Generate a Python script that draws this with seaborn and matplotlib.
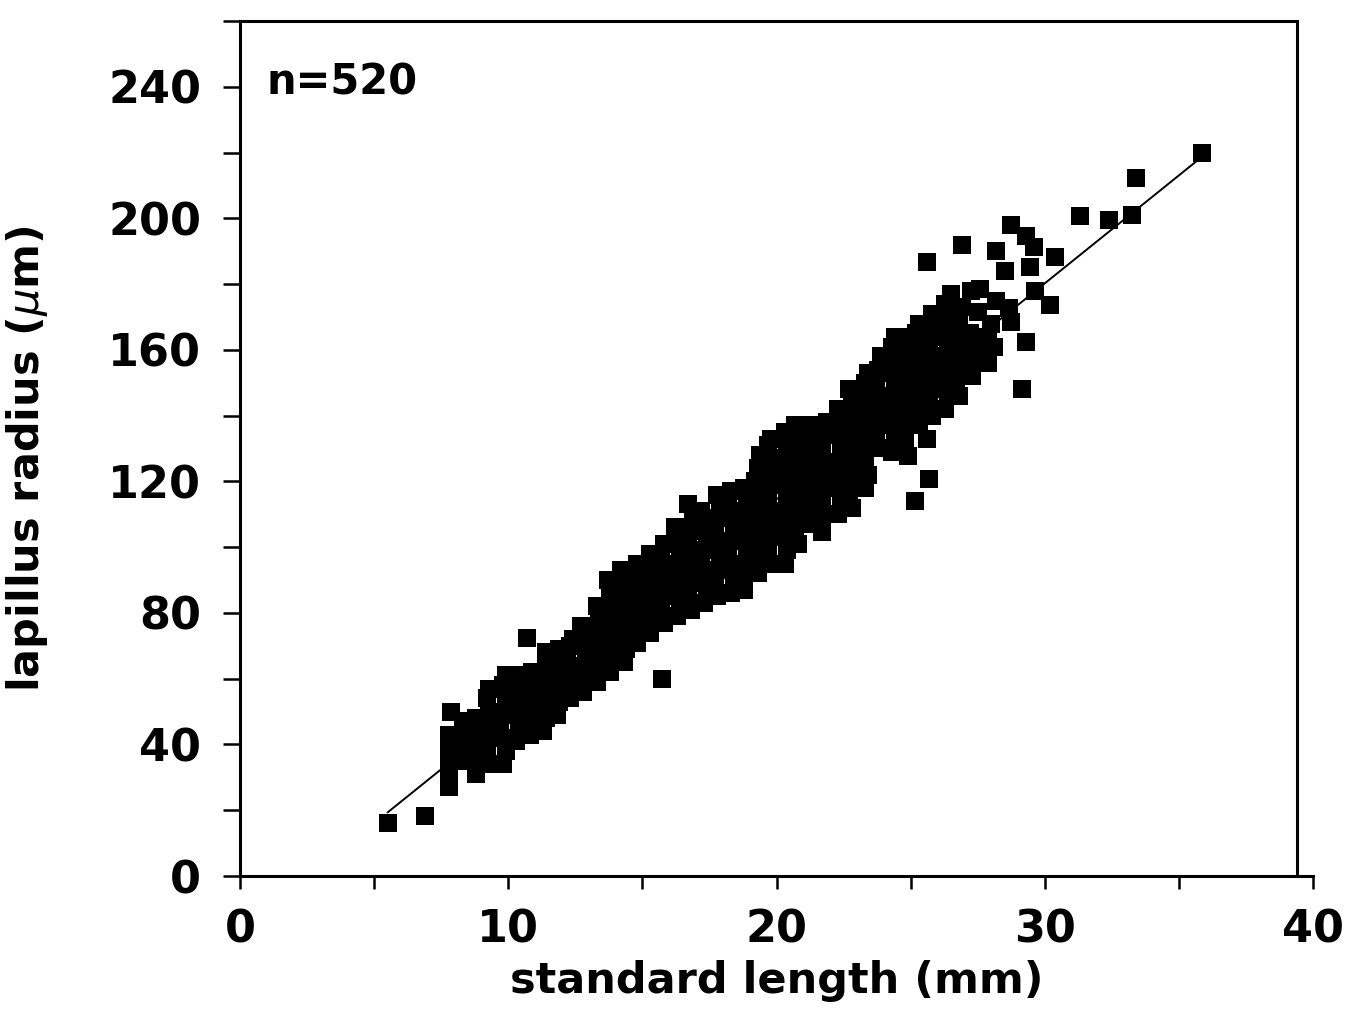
import matplotlib
matplotlib.use("Agg")
import matplotlib.pyplot as plt
import seaborn as sns
import pandas as pd
import numpy as np

# ---- data ----
standard_length_mm = [
    5.5, 6.9, 7.8, 7.8, 7.8, 7.8, 7.8, 7.85,
    8.4, 8.3, 8.4, 8.3,
    8.8, 8.9, 8.8, 8.9, 8.8,
    9.3, 9.2, 9.3, 9.4, 9.3, 9.2, 9.3,
    9.8, 9.9, 9.8, 9.7, 9.8, 9.9, 9.8, 9.9,
    10.3, 10.4, 10.3, 10.2, 10.3, 10.4,
    10.8, 10.9, 10.8, 10.7, 10.8, 10.9, 10.7,
    11.3, 11.4, 11.3, 11.2, 11.3, 11.4, 11.4,
    11.8, 11.9, 11.8, 11.7, 11.8, 11.9,
    12.3, 12.4, 12.3, 12.2, 12.3, 12.4,
    12.8, 12.7, 12.8, 12.9, 12.8, 12.7,
    13.3, 13.4, 13.3, 13.2, 13.3, 13.4, 13.3,
    13.8, 13.7, 13.8, 13.9, 13.8, 13.7, 13.8, 13.7,
    14.3, 14.4, 14.3, 14.2, 14.3, 14.4, 14.3, 14.2,
    14.8, 14.7, 14.8, 14.9, 14.8, 14.7, 14.8,
    15.3, 15.4, 15.3, 15.2, 15.3, 15.4, 15.3,
    15.8, 15.7, 15.8, 15.9, 15.8, 15.7, 15.8, 15.75,
    16.3, 16.4, 16.3, 16.2, 16.3, 16.4, 16.3, 16.2,
    16.8, 16.7, 16.8, 16.9, 16.8, 16.7, 16.8, 16.9, 16.7,
    17.3, 17.4, 17.3, 17.2, 17.3, 17.4, 17.3, 17.2,
    17.8, 17.7, 17.8, 17.9, 17.8, 17.7, 17.8, 17.9, 17.8,
    18.3, 18.4, 18.3, 18.2, 18.3, 18.4, 18.3, 18.2, 18.3,
    18.8, 18.7, 18.8, 18.9, 18.8, 18.7, 18.8, 18.9, 18.8,
    19.3, 19.4, 19.3, 19.2, 19.3, 19.4, 19.3, 19.2, 19.3, 19.4,
    19.8, 19.7, 19.8, 19.9, 19.8, 19.7, 19.8, 19.9, 19.8, 19.7, 19.8,
    20.3, 20.4, 20.3, 20.2, 20.3, 20.4, 20.3, 20.2, 20.3, 20.4, 20.3,
    20.8, 20.7, 20.8, 20.9, 20.8, 20.7, 20.8, 20.9, 20.8, 20.7,
    21.3, 21.4, 21.3, 21.2, 21.3, 21.4, 21.3, 21.2, 21.3,
    21.8, 21.7, 21.8, 21.9, 21.8, 21.7, 21.8, 21.9, 21.7,
    22.3, 22.4, 22.3, 22.2, 22.3, 22.4, 22.3, 22.2, 22.3,
    22.8, 22.7, 22.8, 22.9, 22.8, 22.7, 22.8, 22.9, 22.8, 22.7,
    23.3, 23.4, 23.3, 23.2, 23.3, 23.4, 23.3, 23.2, 23.3, 23.4,
    23.8, 23.7, 23.8, 23.9, 23.8, 23.7, 23.8, 23.9,
    24.3, 24.4, 24.3, 24.2, 24.3, 24.4, 24.3, 24.2, 24.3, 24.4,
    24.8, 24.7, 24.8, 24.9, 24.8, 24.7, 24.8, 24.9, 24.8, 24.9,
    25.3, 25.4, 25.3, 25.2, 25.3, 25.4, 25.3, 25.2, 25.3, 25.15, 25.7,
    25.6, 25.8, 25.7, 25.8, 25.9, 25.8, 25.7, 25.8, 25.9, 25.8, 25.6,
    26.3, 26.4, 26.3, 26.2, 26.3, 26.4, 26.3, 26.2, 26.3, 26.5,
    26.8, 26.7, 26.8, 26.9, 26.8, 26.7, 26.8, 26.9, 26.9,
    27.3, 27.4, 27.3, 27.2, 27.5, 27.25, 27.6,
    27.9, 27.8, 27.9, 28.0, 28.2,
    28.2, 28.5, 28.75, 29.3, 29.6, 30.4, 29.45, 29.65, 30.2, 28.65, 28.75, 29.3, 29.15, 28.1,
    31.3, 32.4, 33.25, 33.4, 35.85,
]
lapillus_radius_um = [
    16, 18.2, 27, 31, 35, 39, 43, 50,
    35, 39, 43, 47,
    31, 36, 40, 44, 48,
    34, 38, 42, 46, 50, 54, 57,
    34, 38, 42, 46, 50, 54, 58, 61,
    41, 45, 49, 53, 57, 61,
    43, 47, 51, 55, 59, 62, 72.5,
    44, 48, 52, 56, 60, 64, 68,
    49, 53, 57, 61, 65, 69,
    54, 58, 62, 66, 70, 72,
    56, 60, 64, 68, 72, 76,
    59, 63, 67, 71, 75, 79, 82,
    62, 66, 70, 74, 78, 82, 86, 90,
    65, 69, 73, 77, 81, 85, 89, 93,
    71, 75, 79, 83, 87, 91, 95,
    74, 78, 82, 86, 90, 94, 98,
    77, 81, 85, 89, 93, 97, 101, 59.8,
    79, 83, 87, 91, 95, 99, 103, 106,
    81, 85, 89, 93, 97, 101, 105, 109, 113,
    83, 87, 91, 95, 99, 103, 107, 111,
    85, 89, 93, 97, 101, 105, 109, 113, 116,
    86, 90, 94, 98, 102, 106, 110, 114, 117,
    87, 91, 95, 99, 103, 107, 111, 115, 118,
    92, 96, 100, 104, 108, 112, 116, 120, 124, 128,
    95, 99, 103, 107, 111, 115, 119, 123, 127, 131, 133,
    95, 99, 103, 107, 111, 115, 119, 123, 127, 131, 135,
    101, 105, 109, 113, 117, 121, 125, 129, 133, 137,
    107, 111, 115, 119, 123, 127, 131, 135, 137,
    110, 114, 118, 122, 126, 130, 134, 138, 104.5,
    110, 114, 118, 122, 126, 130, 134, 138, 142,
    112, 116, 120, 124, 128, 132, 136, 140, 144, 148,
    118, 122, 126, 130, 134, 138, 142, 146, 150, 153,
    130, 134, 138, 142, 146, 150, 154, 158,
    129, 133, 137, 141, 145, 149, 153, 157, 161, 164,
    133, 137, 141, 145, 149, 153, 157, 161, 164, 127.8,
    137, 141, 145, 149, 153, 157, 161, 165, 168, 114.1, 120.8,
    133, 140, 144, 148, 152, 156, 160, 164, 168, 171, 186.6,
    142, 146, 150, 154, 158, 162, 166, 170, 174, 177,
    146, 150, 154, 158, 162, 166, 170, 173, 191.8,
    152, 156, 160, 165, 171.5, 177.8, 178.5,
    156, 160.2, 164, 168, 175,
    190, 183.9, 197.9, 194.5, 191.2, 188.2, 185.2, 177.8, 173.6, 172.6, 168.4, 162.3, 148.1, 161,
    200.6, 199.4, 200.9, 212.4, 220,
]
assert len(standard_length_mm) == len(lapillus_radius_um)

x_major_ticks = [0, 10, 20, 30, 40]
x_minor_ticks = [5, 15, 25, 35]
y_major_ticks = [0, 40, 80, 120, 160, 200, 240]
y_minor_ticks = [20, 60, 100, 140, 180, 220, 260]
fit_slope = 6.567
fit_intercept = -16.8
fit_length_range = [5.5, 36.0]
sample_label = "n=520"
x_label = "standard length (mm)"
y_label = r"lapillus radius ($\mu$m)"

# ---- style ----
sns.set_theme(style="white")
plt.rcParams['font.family'] = ['DejaVu Sans']
plt.rcParams['mathtext.fontset'] = 'dejavusans'
plt.rcParams['text.color'] = 'black'
plt.rcParams['axes.labelcolor'] = 'black'
plt.rcParams['xtick.color'] = 'black'
plt.rcParams['ytick.color'] = 'black'

fig = plt.figure(figsize=(13.58, 10.11), dpi=100)
ax = fig.add_axes([240 / 1358, 135 / 1011, 1073 / 1358, 855 / 1011])

# frame first (set_position resets tick settings)
for side in ["left", "bottom", "top", "right"]:
    ax.spines[side].set_visible(True)
    ax.spines[side].set_color("black")
    ax.spines[side].set_linewidth(2.2)
ax.spines["right"].set_position(("data", 39.4))

df = pd.DataFrame({"sl": standard_length_mm, "radius": lapillus_radius_um})
sns.scatterplot(data=df, x="sl", y="radius", marker="s", s=150, color="black",
                linewidth=0, ax=ax, zorder=3)

fit_x = np.array(fit_length_range)
fit_y = fit_intercept + fit_slope * fit_x
sns.lineplot(x=fit_x, y=fit_y, color="black", linewidth=1.4, ax=ax, zorder=2)

ax.set_xlim(0, 40)
ax.set_ylim(0, 260)
ax.spines["top"].set_bounds(0, 39.4)
ax.set_xticks(x_major_ticks)
ax.set_xticks(x_minor_ticks, minor=True)
ax.set_yticks(y_major_ticks)
ax.set_yticks(y_minor_ticks, minor=True)
ax.set_xticklabels([str(t) for t in x_major_ticks], fontsize=32, fontweight="bold", color="black")
ax.set_yticklabels([str(t) for t in y_major_ticks], fontsize=32, fontweight="bold", color="black")

ax.tick_params(axis="x", which="both", direction="out", length=9.5, width=1.8,
               color="black", bottom=True, top=False, pad=14)
ax.tick_params(axis="y", which="both", direction="out", length=12, width=1.8,
               color="black", left=True, right=False, pad=16)

ax.set_xlabel(x_label, fontsize=31, fontweight="bold", labelpad=6, color="black")
ax.set_ylabel(y_label, fontsize=31, fontweight="bold", color="black")
ax.yaxis.set_label_coords(-0.177, 0.4877)

ax.text(1.0, 237.6, sample_label, fontsize=30, fontweight="bold",
        ha="left", va="baseline", color="black")

ax.grid(False)
fig.savefig("out.png", dpi=100, facecolor="white")
